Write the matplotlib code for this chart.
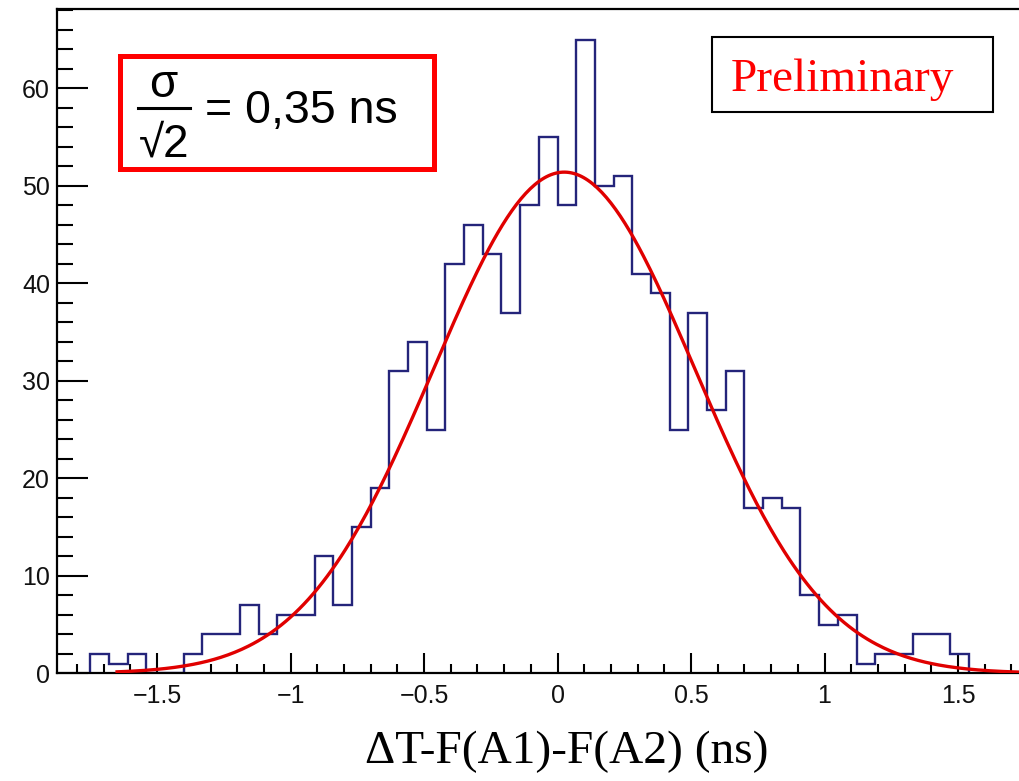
import numpy as np
import matplotlib
matplotlib.use("Agg")
import matplotlib.pyplot as plt
from matplotlib.patches import Rectangle
from matplotlib.lines import Line2D

# ---------------- data ----------------
bin_low = -1.75
bin_width = 0.07
counts = [2, 1, 2, 0, 0, 2, 4, 4, 7, 4, 6, 6, 12, 7, 15, 19, 31, 34, 25, 42,
          46, 43, 37, 48, 55,
          48, 65, 50, 51, 41, 39, 25, 37, 27, 31, 17, 18, 17, 8, 5, 6, 1, 2,
          2, 4, 4, 2]
fit_amplitude = 51.4
fit_mean = 0.025
fit_sigma = 0.49
fit_range = (-1.65, 1.80)
x_ticks = [-1.5, -1, -0.5, 0, 0.5, 1, 1.5]
x_tick_labels = ["\u22121.5", "\u22121", "\u22120.5", "0", "0.5", "1", "1.5"]
y_ticks = [0, 10, 20, 30, 40, 50, 60]
x_label = "\u0394T-F(A1)-F(A2) (ns)"
result_text = "= 0,35 ns"
prelim_text = "Preliminary"

# ---------------- figure ----------------
W, H = 1019, 781
fig = plt.figure(figsize=(W / 100, H / 100), dpi=100)
fig.patch.set_facecolor("white")

def fx(px):
    return px / W

def fy(py):
    return 1 - py / H

ax_left, ax_top, ax_bottom = 57, 9.3, 673.3
ax = fig.add_axes([fx(ax_left), fy(ax_bottom), 1 - fx(ax_left), (ax_bottom - ax_top) / H])
ax.set_xlim(-1.875, 1.7285)
ax.set_ylim(0, 68.1)

edges = bin_low + bin_width * np.arange(len(counts) + 1)
ax.stairs(counts, edges, baseline=0, color="#24247a", lw=1.7, zorder=2)

xf = np.linspace(fit_range[0], fit_range[1], 400)
yf = fit_amplitude * np.exp(-0.5 * ((xf - fit_mean) / fit_sigma) ** 2)
ax.plot(xf, yf, color="#e00000", lw=2.4, zorder=3)

ax.spines["right"].set_visible(False)
for s in ["left", "bottom", "top"]:
    ax.spines[s].set_linewidth(1.6)
    ax.spines[s].set_color("black")

ax.set_xticks(x_ticks)
ax.set_xticklabels(x_tick_labels)
ax.set_xticks(np.arange(-1.8, 1.75, 0.1), minor=True)
ax.set_yticks(y_ticks)
ax.set_yticks(np.arange(0, 69, 2), minor=True)

tickfont = ["Liberation Sans", "DejaVu Sans"]
ax.tick_params(axis="x", which="major", direction="in", length=14.4, width=1.5,
               labelsize=18, pad=8, top=False)
ax.tick_params(axis="x", which="minor", direction="in", length=6.5, width=1.5, top=False)
ax.tick_params(axis="y", which="major", direction="in", length=22.3, width=1.5,
               labelsize=18, pad=5, right=False)
ax.tick_params(axis="y", which="minor", direction="in", length=11.5, width=1.5, right=False)
for lab in ax.get_xticklabels() + ax.get_yticklabels():
    lab.set_family(tickfont)
    lab.set_color("#111111")

# x label
fig.text(fx(567), fy(752), x_label, ha="center", va="center",
         family=["Liberation Serif", "DejaVu Serif"], fontsize=34, color="black")

# sigma/sqrt2 box
lw5 = 5 * 72 / 100
fig.add_artist(Rectangle((fx(119.5), fy(168.5)), fx(433.5) - fx(119.5), fy(55.5) - fy(168.5),
                         transform=fig.transFigure, facecolor="white", edgecolor="#ff0000",
                         lw=lw5, zorder=5))
sans = ["Liberation Sans", "DejaVu Sans"]
fig.text(fx(163), fy(97), "\u03c3", ha="center", va="baseline", family=sans,
         fontsize=33, color="black", zorder=6)
fig.add_artist(Line2D([fx(138), fx(190)], [fy(108), fy(108)], transform=fig.transFigure,
                      color="black", lw=2.2, zorder=6))
fig.text(fx(164), fy(157), "\u221a2", ha="center", va="baseline", family=sans,
         fontsize=33, color="black", zorder=6)
fig.text(fx(205), fy(123), result_text, ha="left", va="baseline", family=sans,
         fontsize=33.5, color="black", zorder=6)

# Preliminary box
fig.add_artist(Rectangle((fx(712), fy(112)), fx(993) - fx(712), fy(37) - fy(112),
                         transform=fig.transFigure, facecolor="white", edgecolor="black",
                         lw=1.5, zorder=5))
fig.text(fx(731), fy(91), prelim_text, ha="left", va="baseline",
         family=["Liberation Serif", "DejaVu Serif"], fontsize=34, color="#ff0000", zorder=6)

fig.savefig("out.png", dpi=100, facecolor="white")
